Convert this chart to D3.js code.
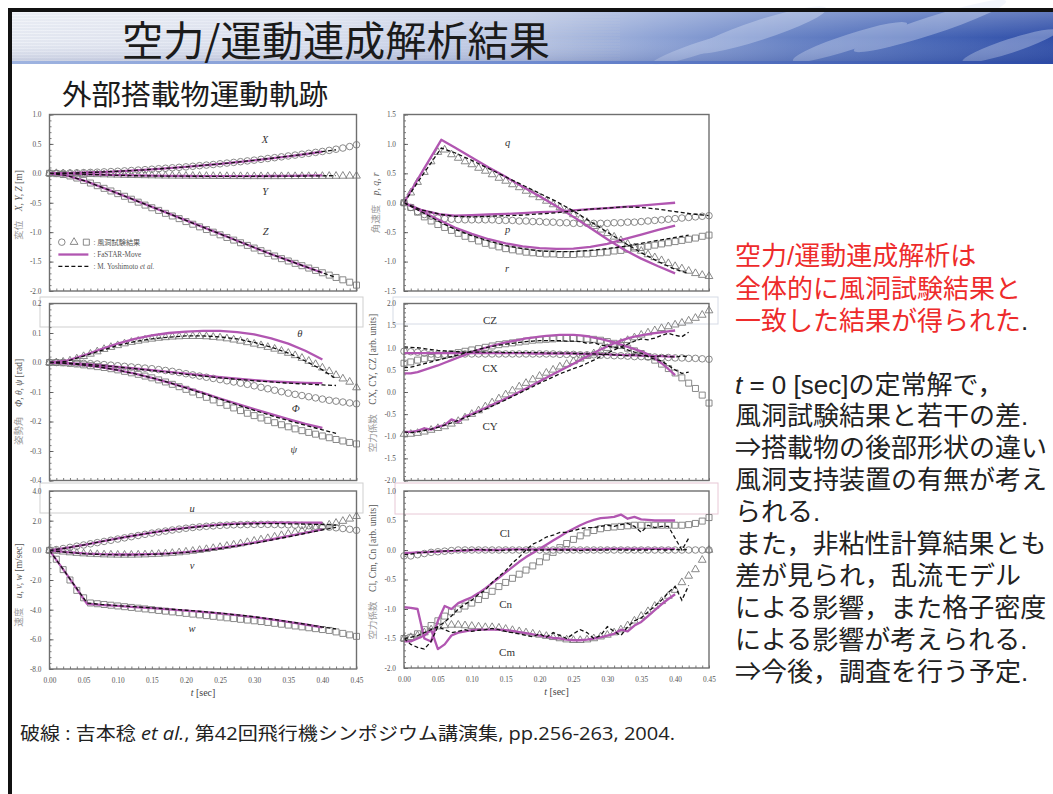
<!DOCTYPE html>
<html><head><meta charset="utf-8">
<script src="https://cdn.jsdelivr.net/npm/d3@7"></script>
<style>body{margin:0;background:#fff;} svg{display:block}</style>
</head><body>
<svg id="c" width="1053" height="794"></svg>
<script>
// ---------------- DATA ----------------
const tExp = [0,0.01,0.02,0.03,0.04,0.05,0.06,0.07,0.08,0.09,0.10,0.11,0.12,0.13,0.14,0.15,0.16,0.17,0.18,0.19,0.20,0.21,0.22,0.23,0.24,0.25,0.26,0.27,0.28,0.29,0.30,0.31,0.32,0.33,0.34,0.35,0.36,0.37,0.38,0.39,0.40,0.41,0.42,0.43,0.44,0.45];
const tFs = [0,0.025,0.055,0.075,0.1,0.125,0.15,0.175,0.2,0.225,0.25,0.275,0.3,0.325,0.35,0.375,0.4];
const tYo = [0,0.025,0.055,0.075,0.1,0.125,0.15,0.175,0.2,0.225,0.25,0.275,0.3,0.325,0.35,0.375,0.4,0.42];
const tYoLong = [0,0.025,0.055,0.075,0.1,0.125,0.15,0.175,0.2,0.225,0.25,0.275,0.3,0.325,0.35,0.375,0.4,0.425,0.45];
const tFineFs = [0,0.01,0.02,0.03,0.04,0.05,0.06,0.07,0.08,0.09,0.10,0.11,0.12,0.13,0.14,0.15,0.16,0.17,0.18,0.19,0.20,0.21,0.22,0.23,0.24,0.25,0.26,0.27,0.28,0.29,0.30,0.31,0.32,0.33,0.34,0.35,0.36,0.37,0.38,0.39,0.40];
const tFineYo = [0,0.01,0.02,0.03,0.04,0.05,0.06,0.07,0.08,0.09,0.10,0.11,0.12,0.13,0.14,0.15,0.16,0.17,0.18,0.19,0.20,0.21,0.22,0.23,0.24,0.25,0.26,0.27,0.28,0.29,0.30,0.31,0.32,0.33,0.34,0.35,0.36,0.37,0.38,0.39,0.40,0.41,0.42];
const xTicks = [0,0.05,0.10,0.15,0.20,0.25,0.30,0.35,0.40,0.45];

// Panel 1: displacement X, Y, Z [m]
const expX = [0,0,0.002,0.005,0.008,0.012,0.016,0.02,0.025,0.03,0.035,0.042,0.048,0.055,0.062,0.07,0.078,0.086,0.094,0.102,0.11,0.12,0.13,0.14,0.15,0.162,0.174,0.186,0.198,0.211,0.224,0.238,0.252,0.266,0.28,0.295,0.31,0.325,0.34,0.356,0.372,0.39,0.41,0.43,0.455,0.485];
const expY = [0,0,-0.003,-0.006,-0.009,-0.012,-0.015,-0.018,-0.021,-0.024,-0.027,-0.03,-0.032,-0.034,-0.036,-0.038,-0.04,-0.042,-0.043,-0.044,-0.045,-0.046,-0.047,-0.048,-0.049,-0.05,-0.05,-0.051,-0.051,-0.052,-0.052,-0.052,-0.052,-0.052,-0.052,-0.051,-0.051,-0.05,-0.05,-0.049,-0.048,-0.047,-0.046,-0.045,-0.044,-0.043];
const expZ = [0,-0.005,-0.02,-0.045,-0.08,-0.12,-0.165,-0.21,-0.255,-0.3,-0.345,-0.39,-0.44,-0.49,-0.54,-0.585,-0.63,-0.68,-0.725,-0.77,-0.82,-0.865,-0.91,-0.955,-1.0,-1.045,-1.09,-1.135,-1.18,-1.225,-1.27,-1.315,-1.36,-1.405,-1.45,-1.49,-1.53,-1.57,-1.61,-1.65,-1.69,-1.73,-1.77,-1.81,-1.85,-1.9];
const fsX = [0,0.003,0.014,0.022,0.035,0.05,0.068,0.088,0.11,0.135,0.16,0.19,0.222,0.255,0.29,0.328,0.37];
const fsY = [0,-0.002,-0.015,-0.022,-0.03,-0.036,-0.04,-0.043,-0.045,-0.046,-0.047,-0.047,-0.046,-0.045,-0.043,-0.04,-0.036];
const fsZ = [0,-0.035,-0.14,-0.23,-0.34,-0.455,-0.57,-0.685,-0.8,-0.915,-1.03,-1.145,-1.26,-1.375,-1.48,-1.585,-1.69];
const yoX = [0,0.003,0.014,0.022,0.035,0.05,0.068,0.088,0.11,0.135,0.16,0.19,0.222,0.255,0.29,0.328,0.37,0.40];
const yoY = [0,-0.002,-0.016,-0.024,-0.033,-0.04,-0.044,-0.047,-0.049,-0.05,-0.051,-0.051,-0.05,-0.049,-0.047,-0.045,-0.042,-0.04];
const yoZ = [0,-0.035,-0.14,-0.23,-0.34,-0.455,-0.57,-0.685,-0.8,-0.915,-1.03,-1.145,-1.26,-1.375,-1.48,-1.585,-1.69,-1.77];

// Panel 2: angular rates p, q, r
const expP = [0,-0.08,-0.15,-0.2,-0.23,-0.26,-0.27,-0.28,-0.285,-0.29,-0.29,-0.29,-0.29,-0.29,-0.3,-0.3,-0.3,-0.31,-0.31,-0.32,-0.32,-0.33,-0.33,-0.34,-0.34,-0.35,-0.35,-0.35,-0.35,-0.35,-0.35,-0.34,-0.34,-0.33,-0.33,-0.32,-0.31,-0.3,-0.29,-0.28,-0.27,-0.26,-0.25,-0.24,-0.23,-0.22];
const expQ = [0,0.17,0.35,0.52,0.7,0.86,0.9,0.82,0.76,0.7,0.65,0.59,0.54,0.48,0.42,0.37,0.31,0.26,0.2,0.14,0.09,0.03,-0.03,-0.08,-0.14,-0.2,-0.27,-0.33,-0.4,-0.46,-0.52,-0.58,-0.64,-0.7,-0.76,-0.82,-0.88,-0.93,-0.98,-1.03,-1.08,-1.12,-1.16,-1.2,-1.23,-1.25];
const expR = [0,-0.08,-0.16,-0.24,-0.31,-0.37,-0.42,-0.47,-0.52,-0.57,-0.61,-0.65,-0.69,-0.72,-0.75,-0.78,-0.8,-0.82,-0.84,-0.85,-0.86,-0.87,-0.87,-0.88,-0.88,-0.88,-0.87,-0.87,-0.86,-0.85,-0.84,-0.82,-0.81,-0.79,-0.77,-0.76,-0.74,-0.72,-0.7,-0.68,-0.66,-0.64,-0.62,-0.6,-0.57,-0.55];
const fsP = [0,-0.12,-0.2,-0.22,-0.21,-0.2,-0.19,-0.175,-0.16,-0.15,-0.13,-0.11,-0.09,-0.07,-0.05,-0.025,0.0];
const fsQ = [0,0.49,1.07,0.94,0.77,0.6,0.44,0.27,0.11,-0.06,-0.24,-0.43,-0.62,-0.8,-0.95,-1.08,-1.2];
const fsR = [0,-0.14,-0.31,-0.42,-0.53,-0.62,-0.69,-0.74,-0.77,-0.785,-0.78,-0.75,-0.7,-0.62,-0.54,-0.46,-0.39];
const yoP = [0,-0.12,-0.2,-0.23,-0.24,-0.23,-0.22,-0.21,-0.19,-0.17,-0.14,-0.11,-0.09,-0.07,-0.08,-0.11,-0.15,-0.19,-0.22];
const yoQ = [0,0.43,0.93,0.85,0.72,0.58,0.44,0.3,0.16,0.02,-0.14,-0.32,-0.5,-0.68,-0.85,-1.0,-1.13,-1.2];
const yoR = [0,-0.15,-0.34,-0.45,-0.56,-0.65,-0.73,-0.78,-0.82,-0.83,-0.83,-0.81,-0.78,-0.74,-0.69,-0.64,-0.59,-0.55];

// Panel 3: attitude angles
const expPhi = [0,0,0,-0.001,-0.002,-0.003,-0.004,-0.005,-0.007,-0.009,-0.011,-0.013,-0.015,-0.017,-0.019,-0.021,-0.024,-0.027,-0.03,-0.034,-0.038,-0.042,-0.046,-0.05,-0.054,-0.058,-0.062,-0.066,-0.07,-0.074,-0.079,-0.084,-0.089,-0.094,-0.099,-0.104,-0.108,-0.112,-0.116,-0.12,-0.124,-0.128,-0.131,-0.134,-0.137,-0.14];
const expTheta = [0,0,0.002,0.006,0.013,0.021,0.029,0.037,0.045,0.052,0.058,0.064,0.069,0.073,0.077,0.08,0.083,0.085,0.087,0.088,0.089,0.089,0.089,0.088,0.086,0.084,0.081,0.077,0.073,0.068,0.063,0.058,0.052,0.046,0.039,0.032,0.024,0.015,0.005,-0.006,-0.018,-0.03,-0.043,-0.055,-0.066,-0.085];
const expPsi = [0,0,-0.001,-0.003,-0.005,-0.008,-0.011,-0.014,-0.017,-0.021,-0.025,-0.03,-0.035,-0.04,-0.046,-0.052,-0.059,-0.066,-0.074,-0.082,-0.091,-0.1,-0.109,-0.118,-0.127,-0.136,-0.145,-0.154,-0.163,-0.172,-0.18,-0.188,-0.196,-0.204,-0.211,-0.218,-0.225,-0.231,-0.237,-0.243,-0.249,-0.255,-0.261,-0.266,-0.271,-0.276];
const fsPhi = [0,-0.002,-0.006,-0.01,-0.015,-0.02,-0.026,-0.032,-0.038,-0.044,-0.05,-0.055,-0.06,-0.064,-0.067,-0.069,-0.07];
const fsTheta = [0,0.006,0.028,0.045,0.064,0.08,0.092,0.1,0.105,0.107,0.107,0.103,0.095,0.082,0.064,0.04,0.01];
const fsPsi = [0,-0.003,-0.01,-0.016,-0.026,-0.038,-0.052,-0.068,-0.085,-0.103,-0.122,-0.14,-0.158,-0.175,-0.192,-0.208,-0.222];
const yoPhi = [0,-0.002,-0.006,-0.01,-0.015,-0.021,-0.027,-0.033,-0.04,-0.046,-0.052,-0.057,-0.062,-0.066,-0.07,-0.073,-0.076,-0.078];
const yoTheta = [0,0.004,0.025,0.04,0.058,0.071,0.08,0.086,0.09,0.09,0.087,0.08,0.068,0.052,0.032,0.005,-0.025,-0.055];
const yoPsi = [0,-0.003,-0.01,-0.016,-0.026,-0.038,-0.052,-0.068,-0.086,-0.105,-0.124,-0.143,-0.162,-0.18,-0.197,-0.213,-0.228,-0.24];

// Panel 4: CX, CY, CZ
const expCX = [0.92,0.91,0.9,0.88,0.86,0.85,0.85,0.85,0.85,0.86,0.86,0.86,0.86,0.86,0.86,0.86,0.86,0.86,0.86,0.86,0.86,0.86,0.86,0.85,0.85,0.85,0.84,0.84,0.84,0.83,0.83,0.82,0.82,0.81,0.8,0.8,0.79,0.79,0.78,0.78,0.77,0.77,0.76,0.76,0.75,0.74];
const expCY = [-0.95,-0.95,-0.93,-0.9,-0.86,-0.82,-0.78,-0.72,-0.66,-0.58,-0.5,-0.42,-0.33,-0.24,-0.15,-0.06,0.03,0.12,0.2,0.28,0.36,0.43,0.5,0.57,0.63,0.69,0.75,0.81,0.87,0.93,0.99,1.05,1.11,1.17,1.23,1.29,1.34,1.39,1.44,1.48,1.52,1.56,1.61,1.67,1.74,1.84];
const expCZ = [0.65,0.68,0.72,0.75,0.78,0.8,0.83,0.86,0.89,0.92,0.95,0.98,1.01,1.04,1.07,1.09,1.11,1.13,1.15,1.17,1.18,1.19,1.2,1.21,1.21,1.21,1.21,1.2,1.19,1.17,1.14,1.1,1.05,0.99,0.93,0.87,0.8,0.72,0.63,0.53,0.43,0.32,0.2,0.08,-0.07,-0.25];
const fsCX = [0.88,0.88,0.88,0.88,0.88,0.88,0.88,0.88,0.88,0.88,0.88,0.88,0.88,0.88,0.88,0.88,0.88,0.88,0.88,0.87,0.87,0.87,0.87,0.87,0.87,0.87,0.86,0.86,0.86,0.85,0.85,0.84,0.84,0.83,0.83,0.82,0.82,0.81,0.81,0.8,0.8];
const fsCY = [-0.9,-0.9,-0.88,-0.82,-0.85,-0.78,-0.75,-0.62,-0.68,-0.55,-0.5,-0.43,-0.36,-0.29,-0.22,-0.15,-0.08,0.0,0.08,0.16,0.24,0.32,0.4,0.48,0.56,0.64,0.72,0.8,0.88,0.96,1.03,1.1,1.16,1.21,1.25,1.28,1.31,1.33,1.35,1.37,1.39];
const fsCZ = [0.42,0.42,0.45,0.5,0.55,0.6,0.66,0.72,0.78,0.84,0.9,0.95,1.0,1.04,1.08,1.12,1.15,1.18,1.21,1.23,1.25,1.27,1.28,1.29,1.29,1.29,1.28,1.26,1.23,1.2,1.16,1.12,1.07,1.02,0.97,0.92,0.85,0.76,0.65,0.52,0.38];
const yoCX = [1.02,1.01,1.0,0.98,0.96,0.94,0.93,0.92,0.91,0.9,0.9,0.9,0.9,0.9,0.9,0.89,0.89,0.89,0.89,0.89,0.89,0.88,0.88,0.88,0.88,0.87,0.87,0.86,0.86,0.85,0.85,0.84,0.83,0.82,0.84,0.83,0.81,0.8,0.82,0.8,0.79,0.81,0.8];
const yoCY = [-0.9,-0.92,-0.9,-0.87,-0.84,-0.8,-0.75,-0.7,-0.64,-0.58,-0.52,-0.46,-0.39,-0.32,-0.25,-0.18,-0.1,-0.03,0.05,0.12,0.2,0.27,0.34,0.41,0.47,0.53,0.58,0.65,0.72,0.8,0.88,0.95,1.02,1.08,1.15,1.2,1.18,1.22,1.28,1.33,1.28,1.25,1.35];
const yoCZ = [0.55,0.56,0.6,0.64,0.68,0.72,0.76,0.8,0.84,0.88,0.92,0.96,1.0,1.03,1.06,1.08,1.1,1.12,1.14,1.15,1.16,1.16,1.16,1.16,1.15,1.15,1.14,1.1,1.12,1.06,1.04,1.0,1.02,0.95,0.9,0.88,0.8,0.74,0.7,0.6,0.5,0.42,0.45];

// Panel 5: velocities u, v, w
const expU = [0,0.05,0.12,0.2,0.28,0.36,0.44,0.52,0.6,0.68,0.76,0.84,0.92,1.0,1.08,1.16,1.23,1.3,1.37,1.43,1.49,1.54,1.58,1.62,1.65,1.68,1.7,1.72,1.73,1.74,1.75,1.75,1.75,1.74,1.73,1.72,1.7,1.68,1.66,1.63,1.6,1.56,1.52,1.47,1.42,1.35];
const expV = [0,-0.05,-0.1,-0.15,-0.19,-0.22,-0.25,-0.27,-0.29,-0.3,-0.31,-0.31,-0.31,-0.3,-0.29,-0.27,-0.25,-0.22,-0.19,-0.15,-0.1,-0.05,0.01,0.07,0.14,0.21,0.29,0.37,0.45,0.54,0.63,0.72,0.81,0.91,1.01,1.11,1.21,1.31,1.41,1.51,1.61,1.72,1.84,1.97,2.12,2.3];
const expW = [0,-0.6,-1.3,-2.0,-2.7,-3.2,-3.55,-3.6,-3.65,-3.7,-3.75,-3.8,-3.85,-3.9,-3.95,-4.0,-4.05,-4.1,-4.15,-4.2,-4.25,-4.3,-4.35,-4.4,-4.45,-4.5,-4.55,-4.6,-4.65,-4.7,-4.75,-4.8,-4.86,-4.92,-4.98,-5.04,-5.1,-5.16,-5.22,-5.28,-5.34,-5.4,-5.5,-5.6,-5.7,-5.8];
const fsU = [0,0.16,0.4,0.58,0.8,1.0,1.2,1.37,1.52,1.64,1.74,1.8,1.84,1.86,1.87,1.87,1.86];
const fsV = [0,-0.12,-0.22,-0.26,-0.28,-0.28,-0.25,-0.2,-0.12,0.0,0.15,0.32,0.52,0.73,0.95,1.18,1.42];
const fsW = [0,-1.6,-3.6,-3.68,-3.75,-3.83,-3.9,-3.98,-4.06,-4.15,-4.25,-4.37,-4.5,-4.65,-4.82,-5.0,-5.2];
const yoU = [0,0.16,0.4,0.58,0.8,1.0,1.19,1.36,1.5,1.61,1.7,1.76,1.79,1.8,1.79,1.77,1.74,1.7];
const yoV = [0,-0.13,-0.24,-0.28,-0.3,-0.3,-0.27,-0.22,-0.14,-0.03,0.12,0.29,0.48,0.69,0.91,1.14,1.38,1.55];
const yoW = [0,-1.6,-3.55,-3.65,-3.73,-3.8,-3.88,-3.96,-4.04,-4.13,-4.23,-4.35,-4.48,-4.63,-4.8,-4.98,-5.17,-5.3];

// Panel 6: Cl, Cm, Cn
const expCl = [-0.1,-0.1,-0.08,-0.06,-0.04,-0.03,-0.02,-0.01,0,0,0,0,0,0,0,0,0,0,0,0,0,0,0,0,0,0,0,0,0,0,0,0,0,0,0,0,0,0,0,0,0,0,0,0,0,0];
const expCm = [-1.5,-1.48,-1.45,-1.4,-1.35,-1.3,-1.28,-1.27,-1.27,-1.28,-1.29,-1.3,-1.31,-1.31,-1.32,-1.34,-1.36,-1.38,-1.4,-1.42,-1.44,-1.46,-1.48,-1.5,-1.52,-1.53,-1.53,-1.52,-1.5,-1.47,-1.44,-1.4,-1.35,-1.28,-1.2,-1.12,-1.04,-0.95,-0.87,-0.78,-0.68,-0.55,-0.44,-0.33,-0.17,0.0];
const expCn = [-1.5,-1.48,-1.42,-1.35,-1.28,-1.2,-1.12,-1.05,-1.0,-0.95,-0.9,-0.84,-0.77,-0.7,-0.62,-0.55,-0.48,-0.41,-0.34,-0.27,-0.2,-0.12,-0.04,0.04,0.11,0.18,0.24,0.29,0.33,0.36,0.38,0.39,0.4,0.41,0.42,0.42,0.42,0.42,0.42,0.42,0.42,0.42,0.43,0.45,0.49,0.55];
const fsCl = [-0.05,-0.05,-0.04,-0.04,-0.03,-0.03,-0.02,-0.02,-0.01,-0.01,0,0,0,0,0,0.01,0.01,0.01,0.01,0.01,0.01,0.01,0.01,0.01,0.01,0.01,0.01,0.01,0.01,0.01,0.02,0.02,0.02,0.02,0.02,0.02,0.02,0.02,0.02,0.02,0.02];
const fsCm = [-1.55,-1.55,-1.5,-1.45,-1.35,-1.68,-1.6,-1.45,-1.4,-1.38,-1.36,-1.35,-1.35,-1.35,-1.35,-1.36,-1.37,-1.39,-1.41,-1.43,-1.45,-1.47,-1.49,-1.5,-1.52,-1.53,-1.53,-1.52,-1.5,-1.48,-1.45,-1.42,-1.35,-1.38,-1.28,-1.22,-1.12,-1.02,-0.92,-0.83,-0.75];
const fsCn = [-0.97,-0.98,-1.0,-1.5,-1.55,-1.2,-0.95,-1.0,-0.9,-0.85,-0.8,-0.73,-0.65,-0.56,-0.47,-0.38,-0.29,-0.2,-0.12,-0.05,0.02,0.09,0.16,0.23,0.3,0.36,0.42,0.47,0.51,0.54,0.55,0.56,0.6,0.53,0.56,0.52,0.51,0.5,0.5,0.5,0.5];
const yoCl = [-0.08,-0.07,-0.05,-0.04,-0.03,-0.02,-0.02,-0.01,-0.01,0,0,0.01,0,0,-0.01,0,0,0.01,0,0,0,0,0.01,0,0,0,-0.01,0,0,0,0,0.01,0,0,0,0,0,0.01,0,0,0.01,0,0.01];
const yoCm = [-1.5,-1.6,-1.65,-1.68,-1.55,-1.3,-1.35,-1.4,-1.38,-1.35,-1.38,-1.36,-1.35,-1.33,-1.35,-1.38,-1.4,-1.42,-1.45,-1.47,-1.42,-1.48,-1.4,-1.45,-1.5,-1.42,-1.35,-1.4,-1.5,-1.45,-1.3,-1.38,-1.45,-1.3,-1.2,-1.15,-1.05,-0.95,-0.85,-0.72,-0.62,-0.85,-0.6];
const yoCn = [-1.5,-1.48,-1.45,-1.4,-1.35,-1.3,-1.22,-1.12,-1.0,-0.92,-0.85,-0.75,-0.68,-0.55,-0.45,-0.35,-0.22,-0.12,0.0,0.1,0.15,0.22,0.25,0.3,0.3,0.33,0.36,0.38,0.38,0.4,0.42,0.4,0.43,0.45,0.4,0.3,0.42,0.38,0.4,0.4,0.2,0.0,0.2];

// y tick values per panel
const yTicks1 = [-2.0,-1.5,-1.0,-0.5,0.0,0.5,1.0];
const yTicks2 = [-1.5,-1.0,-0.5,0.0,0.5,1.0,1.5];
const yTicks3 = [-0.4,-0.3,-0.2,-0.1,0.0,0.1,0.2];
const yTicks4 = [-2.0,-1.5,-1.0,-0.5,0.0,0.5,1.0,1.5,2.0];
const yTicks5 = [-8.0,-6.0,-4.0,-2.0,0.0,2.0,4.0];
const yTicks6 = [-2.0,-1.5,-1.0,-0.5,0.0,0.5,1.0];

// text
const titleText = "空力/運動連成解析結果";
const subtitleText = "外部搭載物運動軌跡";
const redLines = ["空力/運動連成解析は", "全体的に風洞試験結果と", "一致した結果が得られた"];
const blackLines = ["= 0 [sec]の定常解で，", "風洞試験結果と若干の差.", "⇒搭載物の後部形状の違い", "風洞支持装置の有無が考え", "られる.", "また，非粘性計算結果とも", "差が見られ，乱流モデル", "による影響，また格子密度", "による影響が考えられる.", "⇒今後，調査を行う予定."];
const legendTexts = [": 風洞試験結果", ": FaSTAR-Move", ": M. Yoshimoto "];

// ---------------- DRAW ----------------
const svg = d3.select('#c');
const W = 1053, H = 794;
const PURPLE = '#b156b1';
const MARK = '#7c7c7c';

const defs = svg.append('defs');
const g1 = defs.append('linearGradient').attr('id','ban').attr('x1',0).attr('x2',1).attr('y1',0).attr('y2',0);
[[0,'#eef1f7'],[0.3,'#dfe4f1'],[0.5,'#b7c4e3'],[0.62,'#8ea3d5'],[0.75,'#6681c4'],[0.88,'#4766b6'],[1,'#2f4ea8']]
  .forEach(([o,c])=>g1.append('stop').attr('offset',o).attr('stop-color',c));
const g2 = defs.append('linearGradient').attr('id','banv').attr('x1',0).attr('x2',0).attr('y1',0).attr('y2',1);
[[0,'#ffffff',0.25],[0.5,'#ffffff',0.0],[1,'#1c2f7a',0.18]].forEach(([o,c,a])=>g2.append('stop').attr('offset',o).attr('stop-color',c).attr('stop-opacity',a));
const g3 = defs.append('linearGradient').attr('id','banb').attr('x1',0).attr('x2',1).attr('y1',0).attr('y2',0);
[[0,'#9fb4e0'],[0.5,'#6f8bd0'],[1,'#2c4aa6']].forEach(([o,c])=>g3.append('stop').attr('offset',o).attr('stop-color',c));

svg.append('rect').attr('width',W).attr('height',H).attr('fill','#fff');
svg.append('rect').attr('x',12).attr('y',12).attr('width',W-12).attr('height',51).attr('fill','url(#ban)');
const stripes = svg.append('g').attr('opacity',0.35);
for (let yy = 14; yy < 60; yy += 3) {
  stripes.append('line').attr('x1',12).attr('x2',620).attr('y1',yy).attr('y2',yy)
    .attr('stroke','#b8c0d6').attr('stroke-width',1);
}
const clouds = svg.append('g').attr('opacity',0.35);
[[760,30,70,10],[850,42,60,8],[930,26,80,9],[1010,46,50,7],[700,48,50,6]].forEach(([cx,cy,rx,ry])=>{
  clouds.append('ellipse').attr('cx',cx).attr('cy',cy).attr('rx',rx).attr('ry',ry).attr('fill','#dfe7f7')
    .attr('transform',`rotate(-18 ${cx} ${cy})`);
});
svg.append('rect').attr('x',12).attr('y',12).attr('width',W-12).attr('height',51).attr('fill','url(#banv)');
svg.append('rect').attr('x',12).attr('y',61).attr('width',W-12).attr('height',3).attr('fill','url(#banb)');
svg.append('rect').attr('x',8).attr('y',8).attr('width',W-8).attr('height',4).attr('fill','#111');
svg.append('rect').attr('x',8).attr('y',8).attr('width',4).attr('height',H-8).attr('fill','#111');

svg.append('text').attr('x',122).attr('y',56).text(titleText)
  .attr('font-family','"Noto Sans CJK JP", sans-serif').attr('font-size',41).attr('fill','#1b1b1b')
  .attr('textLength',428).attr('lengthAdjust','spacingAndGlyphs');
svg.append('text').attr('x',62).attr('y',105).text(subtitleText)
  .attr('font-family','"Noto Sans CJK JP", sans-serif').attr('font-size',28).attr('fill','#1b1b1b')
  .attr('textLength',266).attr('lengthAdjust','spacingAndGlyphs');

[[40,297,323,30,'#cfcfcf'],[393,297,325,27,'#d6dbe6'],[40,483,323,30,'#cfcfcf'],[395,483,323,31,'#e8c8d6']].forEach(([x,y,w,h,c])=>{
  svg.append('rect').attr('x',x).attr('y',y).attr('width',w).attr('height',h).attr('fill','none').attr('stroke',c).attr('stroke-width',1);
});

const SYM = {
  circle: d3.symbol().type(d3.symbolCircle).size(34),
  triangle: d3.symbol().type(d3.symbolTriangle).size(26),
  square: d3.symbol().type(d3.symbolSquare).size(36)
};

const panels = [
  { x0:49.5, x1:356.5, y0:114.5, y1:291, dom:[-2,1], ticks:yTicks1, minor:0.1, xlab:false,
    ylab:['変位', 'X, Y, Z', ' [m]'], ylx:22, yly:205, italicVar:true,
    series:[
      {exp:expX, sym:'circle', fsT:tFs, fs:fsX, yoT:tYo, yo:yoX, lab:'X', lt:0.316, lv:0.57},
      {exp:expY, sym:'triangle', fsT:tFs, fs:fsY, yoT:tYo, yo:yoY, lab:'Y', lt:0.316, lv:-0.31},
      {exp:expZ, sym:'square', fsT:tFs, fs:fsZ, yoT:tYo, yo:yoZ, lab:'Z', lt:0.317, lv:-0.99}
    ], legend:true },
  { x0:404, x1:709, y0:114.5, y1:291, dom:[-1.5,1.5], ticks:yTicks2, minor:0.1, xlab:false,
    ylab:['角速度', 'p, q, r', ''], ylx:379, yly:203, italicVar:true,
    series:[
      {exp:expP, sym:'circle', fsT:tFs, fs:fsP, yoT:tYoLong, yo:yoP, lab:'p', lt:0.153, lv:-0.45},
      {exp:expQ, sym:'triangle', fsT:tFs, fs:fsQ, yoT:tYo, yo:yoQ, lab:'q', lt:0.153, lv:1.02},
      {exp:expR, sym:'square', fsT:tFs, fs:fsR, yoT:tYo, yo:yoR, lab:'r', lt:0.152, lv:-1.11}
    ]},
  { x0:49.5, x1:356.5, y0:303.5, y1:480.5, dom:[-0.4,0.2], ticks:yTicks3, minor:0.02, xlab:false,
    ylab:['姿勢角', 'Φ, θ, ψ', ' [rad]'], ylx:22, yly:402, italicVar:true,
    series:[
      {exp:expPhi, sym:'circle', fsT:tFs, fs:fsPhi, yoT:tYo, yo:yoPhi, lab:'Φ', lt:0.361, lv:-0.154},
      {exp:expTheta, sym:'triangle', fsT:tFs, fs:fsTheta, yoT:tYo, yo:yoTheta, lab:'θ', lt:0.367, lv:0.1},
      {exp:expPsi, sym:'square', fsT:tFs, fs:fsPsi, yoT:tYo, yo:yoPsi, lab:'ψ', lt:0.358, lv:-0.295}
    ]},
  { x0:404, x1:709, y0:303.5, y1:480.5, dom:[-2,2], ticks:yTicks4, minor:0.1, xlab:false,
    ylab:['空力係数', 'CX, CY, CZ', ' [arb. units]'], ylx:376, yly:383, italicVar:false,
    series:[
      {exp:expCX, sym:'circle', fsT:tFineFs, fs:fsCX, yoT:tFineYo, yo:yoCX, lab:'CX', lt:0.127, lv:0.54},
      {exp:expCY, sym:'triangle', fsT:tFineFs, fs:fsCY, yoT:tFineYo, yo:yoCY, lab:'CY', lt:0.127, lv:-0.77},
      {exp:expCZ, sym:'square', fsT:tFineFs, fs:fsCZ, yoT:tFineYo, yo:yoCZ, lab:'CZ', lt:0.127, lv:1.63}
    ]},
  { x0:49.5, x1:356.5, y0:491, y1:669, dom:[-8,4], ticks:yTicks5, minor:0.4, xlab:true,
    ylab:['速度', 'u, v, w', ' [m/sec]'], ylx:22, yly:585, italicVar:true,
    series:[
      {exp:expU, sym:'circle', fsT:tFs, fs:fsU, yoT:tYo, yo:yoU, lab:'u', lt:0.209, lv:2.85},
      {exp:expV, sym:'triangle', fsT:tFs, fs:fsV, yoT:tYo, yo:yoV, lab:'v', lt:0.209, lv:-0.99},
      {exp:expW, sym:'square', fsT:tFs, fs:fsW, yoT:tYo, yo:yoW, lab:'w', lt:0.209, lv:-5.24}
    ]},
  { x0:404, x1:709, y0:491, y1:668, dom:[-2,1], ticks:yTicks6, minor:0.1, xlab:true,
    ylab:['空力係数', 'Cl, Cm, Cn', ' [arb. units]'], ylx:376, yly:572, italicVar:false,
    series:[
      {exp:expCl, sym:'circle', fsT:tFineFs, fs:fsCl, yoT:tFineYo, yo:yoCl, lab:'Cl', lt:0.149, lv:0.29},
      {exp:expCm, sym:'triangle', fsT:tFineFs, fs:fsCm, yoT:tFineYo, yo:yoCm, lab:'Cm', lt:0.152, lv:-1.73},
      {exp:expCn, sym:'square', fsT:tFineFs, fs:fsCn, yoT:tFineYo, yo:yoCn, lab:'Cn', lt:0.15, lv:-0.92}
    ]}
];

const SERIF = '"Liberation Serif", "Times New Roman", serif';
const fmt = d => d.toFixed(1);

panels.forEach(p => {
  const x = d3.scaleLinear().domain([0,0.45]).range([p.x0,p.x1]);
  const y = d3.scaleLinear().domain(p.dom).range([p.y1,p.y0]);
  const g = svg.append('g');

  const minorY = d3.range(Math.round(p.dom[0]/p.minor), Math.round(p.dom[1]/p.minor)+1).map(k=>k*p.minor);
  const minorX = d3.range(0,46).map(k=>k*0.01);
  g.append('g').attr('transform',`translate(${p.x0},0)`)
    .call(d3.axisLeft(y).tickValues(minorY).tickSizeInner(-2).tickSizeOuter(0).tickFormat(''))
    .call(s=>s.select('.domain').remove()).selectAll('line').attr('stroke','#444').attr('stroke-width',0.7);
  g.append('g').attr('transform',`translate(0,${p.y1})`)
    .call(d3.axisBottom(x).tickValues(minorX).tickSizeInner(-2.5).tickSizeOuter(0).tickFormat(''))
    .call(s=>s.select('.domain').remove()).selectAll('line').attr('stroke','#444').attr('stroke-width',0.7);
  const ya = g.append('g').attr('transform',`translate(${p.x0},0)`)
    .call(d3.axisLeft(y).tickValues(p.ticks).tickSizeInner(-4).tickSizeOuter(0).tickPadding(8).tickFormat(fmt));
  ya.select('.domain').remove();
  ya.selectAll('line').attr('stroke','#444').attr('stroke-width',0.8);
  ya.selectAll('text').attr('font-family',SERIF).attr('font-size',7.3).attr('fill','#555');
  if (p.xlab) {
    const xa = g.append('g').attr('transform',`translate(0,${p.y1})`)
      .call(d3.axisBottom(x).tickValues(xTicks).tickSizeInner(0).tickSizeOuter(0).tickPadding(9).tickFormat(d=>d.toFixed(2)));
    xa.select('.domain').remove();
    xa.selectAll('text').attr('font-family',SERIF).attr('font-size',7.3).attr('fill','#555');
    const xt = g.append('text').attr('x',(p.x0+p.x1)/2).attr('y',p.y1+27).attr('text-anchor','middle')
      .attr('font-family',SERIF).attr('font-size',10).attr('fill','#444');
    xt.append('tspan').attr('font-style','italic').text('t');
    xt.append('tspan').text(' [sec]');
  }

  p.series.forEach(s => {
    g.append('g').selectAll('path').data(tExp.map((t,i)=>[t,s.exp[i]])).join('path')
      .attr('d', SYM[s.sym]).attr('transform', d=>`translate(${x(d[0])},${y(d[1])})`)
      .attr('fill','none').attr('stroke',MARK).attr('stroke-width',0.9);
  });
  p.series.forEach(s => {
    g.append('path').datum(s.fsT.map((t,i)=>[t,s.fs[i]]))
      .attr('d', d3.line().x(d=>x(d[0])).y(d=>y(d[1])))
      .attr('fill','none').attr('stroke',PURPLE).attr('stroke-width',2.3).attr('stroke-linejoin','round');
  });
  p.series.forEach(s => {
    g.append('path').datum(s.yoT.map((t,i)=>[t,s.yo[i]]))
      .attr('d', d3.line().x(d=>x(d[0])).y(d=>y(d[1])))
      .attr('fill','none').attr('stroke','#111').attr('stroke-width',1.3).attr('stroke-dasharray','4,2.5');
  });
  g.append('rect').attr('x',p.x0).attr('y',p.y0).attr('width',p.x1-p.x0).attr('height',p.y1-p.y0)
    .attr('fill','none').attr('stroke','#6f6f6f').attr('stroke-width',1.4);
  p.series.forEach(s => {
    g.append('text').attr('x',x(s.lt)).attr('y',y(s.lv)).attr('text-anchor','middle').attr('dy','0.35em')
      .attr('font-family',SERIF).attr('font-size',p.italicVar?10.5:11).attr('fill','#333')
      .attr('font-style',p.italicVar?'italic':'normal').text(s.lab);
  });
  const yt = g.append('text').attr('transform',`translate(${p.ylx},${p.yly}) rotate(-90)`).attr('text-anchor','middle')
    .attr('font-size',9.5);
  yt.append('tspan').attr('font-family','"Noto Sans CJK JP", sans-serif').attr('fill','#9a9a9a').text(p.ylab[0] + '\u3000');
  yt.append('tspan').attr('font-family',SERIF).attr('fill','#555').attr('font-style',p.italicVar?'italic':'normal').text(p.ylab[1]);
  yt.append('tspan').attr('font-family',SERIF).attr('fill','#555').text(p.ylab[2]);

  if (p.legend) {
    const lg = g.append('g').attr('font-family',SERIF).attr('font-size',7.2).attr('fill','#555');
    const lx = x(0.013), lx2 = x(0.057);
    const rows = [y(-1.17), y(-1.38), y(-1.58)];
    ['circle','triangle','square'].forEach((k,i)=>{
      lg.append('path').attr('d',SYM[k]).attr('transform',`translate(${x(0.018 + i*0.018)},${rows[0]})`)
        .attr('fill','none').attr('stroke',MARK).attr('stroke-width',0.9);
    });
    lg.append('line').attr('x1',lx).attr('x2',lx2).attr('y1',rows[1]).attr('y2',rows[1]).attr('stroke',PURPLE).attr('stroke-width',2.3);
    lg.append('line').attr('x1',lx).attr('x2',lx2).attr('y1',rows[2]).attr('y2',rows[2]).attr('stroke','#111').attr('stroke-width',1.3).attr('stroke-dasharray','4,2.5');
    legendTexts.forEach((t,i)=>{
      const tx = lg.append('text').attr('x',lx2+5).attr('y',rows[i]).attr('dy','0.35em');
      if (i===0) { tx.append('tspan').text(': '); tx.append('tspan').attr('font-family','"Noto Sans CJK JP", sans-serif').text('風洞試験結果'); }
      else tx.text(t);
      if (i===2) tx.append('tspan').attr('font-style','italic').text('et al.');
    });
  }
});

// right-hand commentary (primary font with compact line metrics; CJK glyphs fall back to Noto Sans CJK JP)
const RF = '"Liberation Sans", "Noto Sans CJK JP", sans-serif';
const FS = 26;
const redY = [265, 298, 330];
redLines.forEach((t,i)=>{
  const tx = svg.append('text').attr('x',735).attr('y',redY[i]).attr('font-family',RF).attr('font-size',FS).attr('fill','#ee2b2b').text(t);
  if (i===2) tx.append('tspan').attr('fill','#222').text('.');
});
const blackY = [394, 425, 457, 489, 521, 553, 585, 617, 649, 681];
blackLines.forEach((t,i)=>{
  const tx = svg.append('text').attr('x',735).attr('y',blackY[i]).attr('font-family',RF).attr('font-size',FS).attr('fill','#222');
  if (i===0) { tx.append('tspan').attr('font-style','italic').text('t'); tx.append('tspan').text(' ' + t); }
  else tx.text(t);
});

// reference note
const ref = svg.append('text').attr('x',20).attr('y',740).attr('font-family','"Open Sans", "Noto Sans CJK JP", sans-serif').attr('font-size',18)
  .attr('fill','#222').attr('textLength',655).attr('lengthAdjust','spacingAndGlyphs');
ref.append('tspan').text('破線 : 吉本稔 ');
ref.append('tspan').attr('font-style','italic').text('et al.');
ref.append('tspan').text(', 第42回飛行機シンポジウム講演集, pp.256-263, 2004.');
</script>
</body></html>
